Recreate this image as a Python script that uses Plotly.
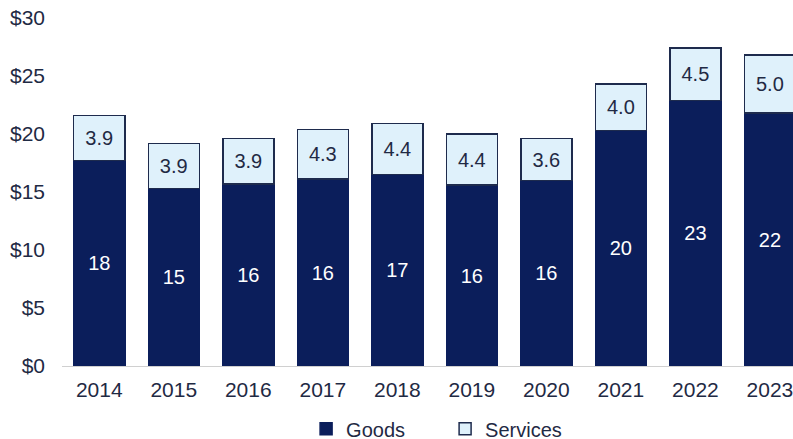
import plotly.graph_objects as go

years = ["2014", "2015", "2016", "2017", "2018", "2019", "2020", "2021", "2022", "2023"]
goods = [17.7, 15.3, 15.7, 16.1, 16.5, 15.6, 16.0, 20.3, 22.9, 21.8]
services = [3.9, 3.9, 3.9, 4.3, 4.4, 4.4, 3.6, 4.0, 4.5, 5.0]
y_ticks = [0, 5, 10, 15, 20, 25, 30]
y_tick_labels = ["$0", "$5", "$10", "$15", "$20", "$25", "$30"]

NAVY = "#0b1e5b"
LIGHT = "#dff1fb"
EDGE = "#1e2b4d"
TXT = "#1f2a44"
FONT = "Liberation Sans, Arial, sans-serif"

fig = go.Figure()
fig.add_trace(go.Bar(
    x=years, y=goods, name="Goods",
    marker=dict(color=NAVY, line=dict(color=NAVY, width=1.5)),
    text=goods, texttemplate="%{y:.0f}", textposition="inside",
    insidetextanchor="middle", textangle=0, constraintext="none",
    textfont=dict(color="white", size=20, family=FONT),
))
fig.add_trace(go.Bar(
    x=years, y=services, name="Services",
    marker=dict(color=LIGHT, line=dict(color=EDGE, width=1.5)),
    text=services, texttemplate="%{y:.1f}", textposition="inside",
    insidetextanchor="middle", textangle=0, constraintext="none",
    textfont=dict(color=TXT, size=20, family=FONT),
))

fig.update_layout(
    width=793, height=439,
    barmode="stack", bargap=0.315,
    margin=dict(l=62, r=0, t=18, b=73, autoexpand=False),
    paper_bgcolor="white", plot_bgcolor="white",
    font=dict(family=FONT, size=20, color=TXT),
    showlegend=True,
    legend=dict(
        orientation="h", xref="container", yref="container",
        x=0.386, xanchor="left", y=0.0234, yanchor="middle",
        entrywidth=94, font=dict(size=20, color=TXT),
        bgcolor="rgba(0,0,0,0)", traceorder="normal",
    ),
    xaxis=dict(
        range=[-0.5, 9.31], showgrid=False, showline=True,
        linecolor="#d0d0d0", linewidth=1, ticks="", automargin=False,
        ticklabelstandoff=5, tickfont=dict(size=21, color=TXT),
        ticklabeloverflow="allow", fixedrange=True,
    ),
    yaxis=dict(
        range=[0, 30], tickvals=y_ticks, ticktext=y_tick_labels,
        showgrid=False, zeroline=False, showline=False, ticks="", automargin=False,
        ticklabelstandoff=16, tickfont=dict(size=21, color=TXT),
        ticklabeloverflow="allow", fixedrange=True,
    ),
)

fig.write_html(
    "out.html",
    config={"displayModeBar": False},
    post_script="document.body.style.margin='0';document.body.style.overflow='hidden';",
)
